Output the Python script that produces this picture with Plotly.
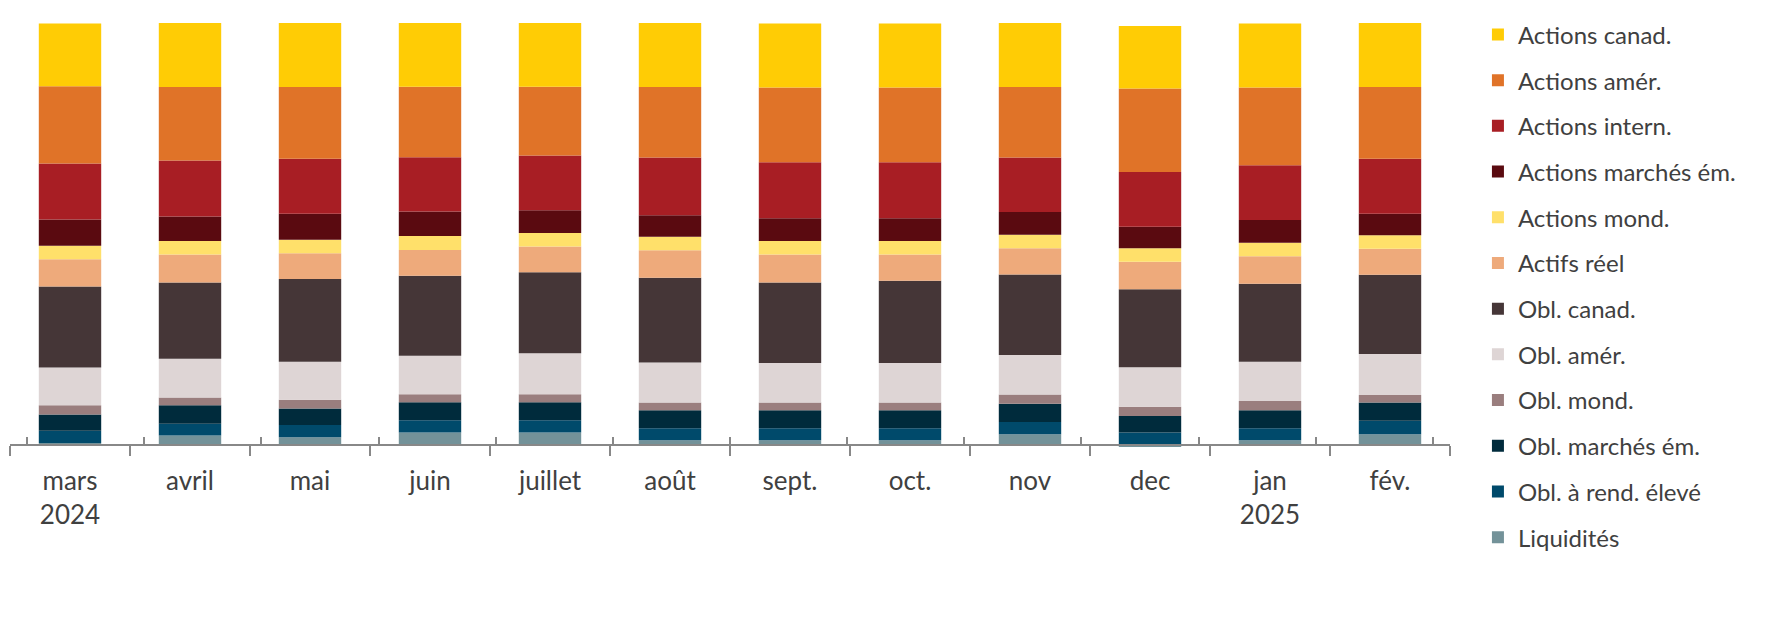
import plotly.graph_objects as go

months = ["mars<br>2024", "avril", "mai", "juin", "juillet", "août",
          "sept.", "oct.", "nov", "dec", "jan<br>2025", "fév."]

# parts en %, de bas en haut de chaque barre
liquidites = [0.4, 2.2, 1.8, 2.9, 2.9, 1.1, 1.1, 1.1, 2.5, -0.5, 1.1, 2.5]
obl_rend_eleve = [2.9, 2.8, 2.9, 2.9, 2.9, 2.8, 2.8, 2.8, 2.9, 2.9, 2.8, 3.2]
obl_marches_em = [3.9, 4.4, 3.9, 4.3, 4.3, 4.3, 4.3, 4.3, 4.3, 3.9, 4.3, 4.3]
obl_mond = [2.2, 1.8, 2.1, 1.9, 1.9, 1.8, 1.8, 1.8, 2.2, 2.2, 2.2, 1.8]
obl_amer = [8.9, 9.2, 9.0, 9.1, 9.7, 9.5, 9.4, 9.4, 9.4, 9.4, 9.3, 9.7]
obl_canad = [19.2, 18.1, 19.6, 19.0, 19.2, 20.1, 19.1, 19.5, 19.1, 18.5, 18.5, 18.8]
actifs_reel = [6.5, 6.6, 6.1, 6.1, 6.1, 6.5, 6.6, 6.2, 6.2, 6.5, 6.5, 6.2]
actions_mond = [3.2, 3.2, 3.2, 3.3, 3.2, 3.2, 3.2, 3.2, 3.2, 3.2, 3.2, 3.2]
actions_marches_em = [6.2, 5.8, 6.2, 5.8, 5.4, 5.1, 5.4, 5.4, 5.4, 5.1, 5.4, 5.1]
actions_intern = [13.3, 13.3, 13.0, 12.9, 13.0, 13.7, 13.3, 13.3, 12.9, 13.0, 13.0, 13.0]
actions_amer = [18.3, 17.4, 17.0, 16.7, 16.3, 16.7, 17.7, 17.7, 16.7, 19.8, 18.4, 17.0]
actions_canad = [14.9, 15.2, 15.2, 15.2, 15.2, 15.2, 15.2, 15.2, 15.2, 14.8, 15.2, 15.2]

series = [
    ("Liquidités", liquidites, "#739299"),
    ("Obl. à rend. élevé", obl_rend_eleve, "#004A6B"),
    ("Obl. marchés ém.", obl_marches_em, "#002B3C"),
    ("Obl. mond.", obl_mond, "#9A7E7E"),
    ("Obl. amér.", obl_amer, "#DED5D5"),
    ("Obl. canad.", obl_canad, "#453637"),
    ("Actifs réel", actifs_reel, "#EEAA7B"),
    ("Actions mond.", actions_mond, "#FFE06A"),
    ("Actions marchés ém.", actions_marches_em, "#5A0A10"),
    ("Actions intern.", actions_intern, "#A81E24"),
    ("Actions amér.", actions_amer, "#E07328"),
    ("Actions canad.", actions_canad, "#FFCC05"),
]

fig = go.Figure()
n = len(series)
for i, (name, vals, col) in enumerate(series):
    # légende : haut de la pile en premier
    fig.add_trace(go.Bar(x=months, y=vals, name=name, legendgroup=name,
                         legendrank=n - i,
                         marker=dict(color=col, line=dict(width=0))))

# second axe pour les graduations qui croisent la ligne
fig.add_trace(go.Scatter(x=months, y=[0] * len(months), xaxis="x2",
                         mode="markers", marker=dict(opacity=0),
                         showlegend=False, hoverinfo="skip"))

ymin, ymax = -1, 100
pos0 = (0 - ymin) / (ymax - ymin)
axis_col = "#888888"
txt_col = "#404040"

# la page ajoute 8 px de marge autour de la figure
fig.update_layout(
    width=1779, height=620,
    barmode="relative", bargap=0.48,
    plot_bgcolor="white", paper_bgcolor="white",
    margin=dict(l=2, r=337, t=15, b=179),
    font=dict(family="Lato", size=24, color=txt_col),
    xaxis=dict(type="category", anchor="free", position=pos0,
               showline=True, linecolor=axis_col, linewidth=1.5,
               ticks="outside", tickson="boundaries", ticklen=10,
               tickcolor=axis_col, tickwidth=1.5, ticklabelstandoff=13,
               showgrid=False, tickfont=dict(family="Lato", size=26, color=txt_col)),
    xaxis2=dict(type="category", overlaying="x", anchor="free", position=pos0,
                showline=False, ticks="inside", tickson="boundaries", ticklen=8,
                tickcolor=axis_col, tickwidth=1.5, showticklabels=False,
                showgrid=False),
    yaxis=dict(range=[ymin, ymax], visible=False, showgrid=False, zeroline=False),
    legend=dict(x=1.0194, y=1.025, xanchor="left", yanchor="top",
                traceorder="grouped", tracegroupgap=11.5, maxheight=610,
                font=dict(family="Lato", size=24, color=txt_col),
                itemclick=False),
    showlegend=True,
)

fig.write_html("out.html")
